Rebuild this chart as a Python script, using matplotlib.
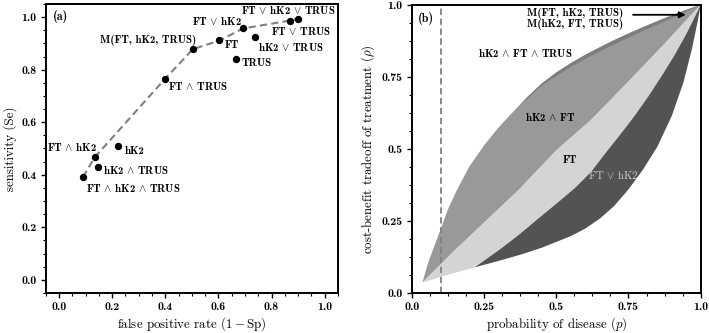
import matplotlib
matplotlib.use('Agg')
import matplotlib.pyplot as plt
from matplotlib.ticker import MultipleLocator
import numpy as np

plt.rcParams['mathtext.fontset'] = 'cm'
plt.rcParams['font.family'] = 'cmr10'
plt.rcParams['axes.unicode_minus'] = False
plt.rcParams['axes.formatter.use_mathtext'] = True

# ---------------- data: panel (a) ROC points ----------------
test_names = ['FT $\\wedge$ hK2 $\\wedge$ TRUS', 'FT $\\wedge$ hK2', 'hK2 $\\wedge$ TRUS', 'hK2',
              'FT $\\wedge$ TRUS', 'M(FT, hK2, TRUS)', 'FT', 'TRUS', 'FT $\\vee$ hK2',
              'hK2 $\\vee$ TRUS', 'FT $\\vee$ TRUS', 'FT $\\vee$ hK2 $\\vee$ TRUS']
fpr = [0.090, 0.134, 0.148, 0.223, 0.399, 0.504, 0.604, 0.665, 0.693, 0.739, 0.871, 0.899]
sens = [0.391, 0.466, 0.430, 0.511, 0.765, 0.878, 0.911, 0.842, 0.957, 0.923, 0.987, 0.994]
hull_idx = [0, 1, 4, 5, 6, 8, 10, 11]

# ---------------- data: panel (b) region boundaries ----------------
upper_p = [0.037, 0.055, 0.075, 0.10, 0.125, 0.155, 0.20, 0.25, 0.30, 0.35, 0.40, 0.45, 0.50,
           0.55, 0.60, 0.65, 0.70, 0.75, 0.80, 0.85, 0.90, 0.95, 1.0]
upper_rho = [0.037, 0.10, 0.155, 0.222, 0.29, 0.355, 0.44, 0.512, 0.574, 0.628, 0.68, 0.727, 0.765,
             0.797, 0.826, 0.852, 0.877, 0.90, 0.922, 0.943, 0.963, 0.982, 1.0]
band_p = [0.37, 0.45, 0.55, 0.65, 0.75, 0.85, 0.95, 1.0]
band_rho = [0.648, 0.720, 0.785, 0.838, 0.886, 0.931, 0.976, 1.0]
diag_p = [0.037, 0.15, 0.26, 0.37, 0.50, 0.62, 0.755, 0.88, 1.0]
diag_rho = [0.037, 0.15, 0.254, 0.358, 0.495, 0.60, 0.739, 0.87, 1.0]
split_p = [0.218, 0.305, 0.37, 0.432, 0.50, 0.565, 0.62, 0.67, 0.72, 0.77, 0.82, 0.87, 0.91,
           0.95, 0.975, 1.0]
split_rho = [0.09, 0.152, 0.202, 0.254, 0.31, 0.365, 0.42, 0.485, 0.548, 0.613, 0.684, 0.761,
             0.826, 0.898, 0.948, 1.0]
lower_p = [0.037, 0.10, 0.15, 0.218, 0.30, 0.38, 0.45, 0.50, 0.55, 0.60, 0.65, 0.70, 0.75, 0.80,
           0.85, 0.90, 0.94, 0.97, 0.99, 1.0]
lower_rho = [0.037, 0.057, 0.071, 0.09, 0.112, 0.135, 0.158, 0.178, 0.198, 0.224, 0.258, 0.302,
             0.36, 0.428, 0.508, 0.615, 0.73, 0.848, 0.945, 1.0]
threshold_p = 0.1

fig = plt.figure(figsize=(7.09, 3.33), dpi=100)
axa = fig.add_axes([0.0645, 0.1201, 0.4122, 0.868])
axb = fig.add_axes([0.5807, 0.1192, 0.4076, 0.8667])

bold = 'cmb10'
fs_ann = 7.8
fs_tick = 8.5
fs_lab = 9.3

# ---------------- panel (a) ----------------
hx = [fpr[i] for i in hull_idx]
hy = [sens[i] for i in hull_idx]
axa.plot(hx, hy, ls=(0, (3.5, 2)), color='#808080', lw=1.5, zorder=2)
axa.plot(fpr, sens, 'o', color='black', ms=4.3, zorder=3)

label_pos = [(0.279, 0.351), (0.047, 0.504), (0.291, 0.420), (0.283, 0.491), (0.522, 0.737),
             (0.334, 0.911), (0.649, 0.892), (0.745, 0.825), (0.596, 0.987), (0.872, 0.888),
             (0.912, 0.948), (0.864, 1.028)]
for name, (lx, ly) in zip(test_names, label_pos):
    axa.text(lx, ly, name, fontfamily=bold, fontsize=fs_ann, ha='center', va='center')

axa.text(0.025, 0.955, '(a)', transform=axa.transAxes, fontfamily=bold, fontsize=8.6,
         ha='left', va='center')
axa.set_xlim(-0.05, 1.05)
axa.set_ylim(-0.05, 1.05)
ticks_a = [0.0, 0.2, 0.4, 0.6, 0.8, 1.0]
axa.set_xticks(ticks_a, labels=['0.0', '0.2', '0.4', '0.6', '0.8', '1.0'])
axa.set_yticks(ticks_a, labels=['0.0', '0.2', '0.4', '0.6', '0.8', '1.0'])
axa.xaxis.set_minor_locator(MultipleLocator(0.05))
axa.yaxis.set_minor_locator(MultipleLocator(0.05))
axa.set_xlabel('false positive rate $(1-\\mathrm{Sp})$', fontsize=fs_lab, labelpad=2)
axa.set_ylabel('sensitivity (Se)', fontsize=fs_lab, labelpad=3)

# ---------------- panel (b) ----------------
poly_med = (np.concatenate([upper_p, diag_p[::-1]]), np.concatenate([upper_rho, diag_rho[::-1]]))
axb.fill(*poly_med, color='#999999', lw=0, zorder=1)
up_sel = [i for i, v in enumerate(upper_p) if v >= band_p[0]]
bx = np.concatenate([[band_p[0]], [upper_p[i] for i in up_sel], band_p[::-1]])
by = np.concatenate([[band_rho[0]], [upper_rho[i] for i in up_sel], band_rho[::-1]])
axb.fill(bx, by, color='#7e7e7e', lw=0, zorder=1)
k = lower_p.index(split_p[0])
poly_light = (np.concatenate([diag_p, split_p[::-1], lower_p[k::-1]]),
              np.concatenate([diag_rho, split_rho[::-1], lower_rho[k::-1]]))
axb.fill(*poly_light, color='#d4d4d4', lw=0, zorder=1)
poly_dark = (np.concatenate([split_p, lower_p[:k - 1:-1]]),
             np.concatenate([split_rho, lower_rho[:k - 1:-1]]))
axb.fill(*poly_dark, color='#535353', lw=0, zorder=1)

axb.axvline(threshold_p, color='#808080', ls=(0, (3.5, 2)), lw=1.3, zorder=2)

axb.text(0.399, 0.970, 'M(FT, hK2, TRUS)', fontfamily=bold, fontsize=fs_ann, ha='left', va='center')
axb.text(0.399, 0.933, 'M(hK2, FT, TRUS)', fontfamily=bold, fontsize=fs_ann, ha='left', va='center')
axb.annotate('', xy=(0.948, 0.965), xytext=(0.766, 0.965),
             arrowprops=dict(arrowstyle='-|>', color='black', lw=1.3, mutation_scale=9,
                             shrinkA=0, shrinkB=0))
axb.text(0.394, 0.832, 'hK2 $\\wedge$ FT $\\wedge$ TRUS', fontfamily=bold, fontsize=fs_ann,
         ha='center', va='center')
axb.text(0.478, 0.612, 'hK2 $\\wedge$ FT', fontfamily=bold, fontsize=fs_ann, ha='center', va='center')
axb.text(0.547, 0.462, 'FT', fontfamily=bold, fontsize=fs_ann, ha='center', va='center')
axb.text(0.696, 0.41, 'FT $\\vee$ hK2', fontfamily='cmr10', fontsize=fs_ann, ha='center',
         va='center', color='#cfcfcf')
axb.text(0.021, 0.951, '(b)', transform=axb.transAxes, fontfamily=bold, fontsize=8.6,
         ha='left', va='center')

axb.set_xlim(0, 1)
axb.set_ylim(0, 1)
ticks_b = [0.0, 0.25, 0.5, 0.75, 1.0]
tl_b = ['0.0', '0.25', '0.5', '0.75', '1.0']
axb.set_xticks(ticks_b, labels=tl_b)
axb.set_yticks(ticks_b, labels=tl_b)
axb.xaxis.set_minor_locator(MultipleLocator(0.0625))
axb.yaxis.set_minor_locator(MultipleLocator(0.0625))
axb.set_xlabel('probability of disease $(p)$', fontsize=fs_lab, labelpad=2)
axb.set_ylabel('cost-benefit tradeoff of treatment $(\\rho)$', fontsize=fs_lab, labelpad=3)

for ax in (axa, axb):
    for s in ax.spines.values():
        s.set_linewidth(1.4)
        s.set_zorder(5)
    ax.tick_params(which='major', direction='out', length=3.5, width=1.0, labelsize=fs_tick, pad=3,
                   top=False, right=False)
    ax.tick_params(which='minor', direction='out', length=2.0, width=0.8, top=False, right=False)
    for lbl in ax.get_xticklabels() + ax.get_yticklabels():
        lbl.set_fontfamily(bold)

fig.savefig('out.png', dpi=100)
